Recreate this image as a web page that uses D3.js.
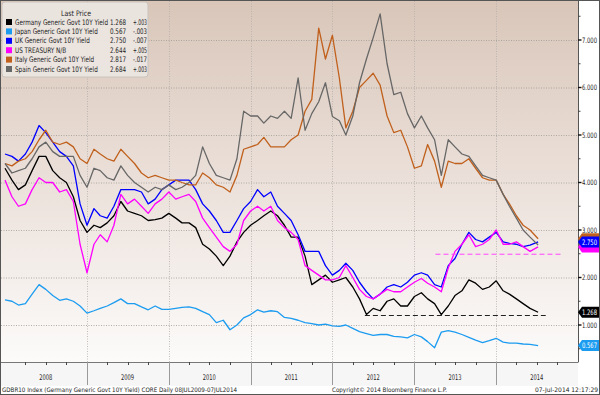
<!DOCTYPE html>
<html lang="en">
<head>
<meta charset="utf-8">
<script src="https://d3js.org/d3.v7.min.js"></script>
<style>
  body { margin: 0; background: #fff; }
  svg text { font-family: "DejaVu Sans", sans-serif; }
</style>
</head>
<body>
<script>
// month-start readings, Jan 2008 .. 07 Jul 2014
const months = d3.timeMonth.range(new Date(2008, 0, 1), new Date(2014, 7, 1));
months[months.length - 1] = new Date(2014, 6, 7);

const germany = [
  4.30, 4.05, 3.85, 3.95, 4.25, 4.55, 4.55, 4.25, 4.10, 4.00, 3.70, 3.20,
  2.95, 3.10, 3.05, 3.15, 3.30, 3.60, 3.40, 3.35, 3.30, 3.20, 3.22, 3.25,
  3.35, 3.25, 3.15, 3.15, 3.05, 2.70, 2.60, 2.45, 2.25, 2.45, 2.75, 2.95,
  3.10, 3.20, 3.30, 3.40, 3.30, 3.10, 2.85, 2.85, 2.45, 1.85, 1.95, 2.05,
  1.90, 1.95, 2.00, 1.80, 1.55, 1.22, 1.35, 1.30, 1.50, 1.55, 1.40, 1.40,
  1.60, 1.68, 1.55, 1.45, 1.22, 1.40, 1.62, 1.72, 1.95, 1.88, 1.75, 1.80,
  1.93, 1.72, 1.65, 1.55, 1.45, 1.35, 1.268
];
const japan = [
  1.53, 1.50, 1.42, 1.45, 1.65, 1.85, 1.75, 1.62, 1.52, 1.55, 1.50, 1.40,
  1.25, 1.30, 1.35, 1.40, 1.47, 1.55, 1.45, 1.45, 1.38, 1.32, 1.40, 1.33,
  1.33, 1.35, 1.37, 1.38, 1.35, 1.28, 1.22, 1.05, 1.10, 0.90, 1.00, 1.15,
  1.22, 1.32, 1.27, 1.30, 1.28, 1.16, 1.14, 1.10, 1.05, 1.03, 1.00, 1.02,
  0.98, 0.97, 1.00, 0.93, 0.86, 0.82, 0.78, 0.80, 0.80, 0.76, 0.75, 0.73,
  0.80, 0.75, 0.65, 0.52, 0.85, 0.88, 0.85, 0.80, 0.74, 0.68, 0.63, 0.67,
  0.72, 0.64, 0.62, 0.62, 0.60, 0.59, 0.567
];
const uk = [
  4.60, 4.55, 4.45, 4.60, 4.85, 5.20, 5.05, 4.85, 4.65, 4.55, 4.35, 3.55,
  3.10, 3.45, 3.30, 3.25, 3.50, 3.85, 3.85, 3.85, 3.80, 3.55, 3.65, 3.85,
  3.95, 4.05, 4.05, 4.05, 3.85, 3.55, 3.40, 3.20, 2.95, 2.95, 3.20, 3.45,
  3.60, 3.85, 3.70, 3.80, 3.50, 3.35, 3.20, 2.90, 2.55, 2.55, 2.55, 2.25,
  2.05, 2.15, 2.30, 2.15, 1.90, 1.70, 1.55, 1.65, 1.80, 1.85, 1.80, 1.90,
  2.05, 2.10, 2.05, 1.85, 1.80, 2.25, 2.40, 2.70, 2.95, 2.80, 2.75, 2.85,
  2.95, 2.75, 2.72, 2.70, 2.65, 2.68, 2.750
];
const us = [
  4.05, 3.70, 3.50, 3.55, 3.85, 4.10, 4.00, 4.00, 3.80, 3.85, 3.60, 2.70,
  2.10, 2.70, 2.90, 2.75, 3.10, 3.75, 3.55, 3.65, 3.50, 3.35, 3.55, 3.65,
  3.80, 3.65, 3.70, 3.75, 3.60, 3.25, 3.05, 2.85, 2.65, 2.55, 2.70, 3.20,
  3.40, 3.50, 3.40, 3.50, 3.20, 3.05, 2.95, 2.80, 2.25, 2.15, 2.05, 1.95,
  1.95, 2.00, 2.25, 2.00, 1.75, 1.60, 1.55, 1.65, 1.75, 1.70, 1.70, 1.80,
  1.90, 1.98, 1.88, 1.80, 1.70, 2.20, 2.55, 2.70, 2.90, 2.65, 2.70, 2.80,
  3.00, 2.70, 2.70, 2.75, 2.65, 2.55, 2.644
];
const italy = [
  4.40, 4.35, 4.45, 4.50, 4.65, 4.90, 5.10, 4.85, 4.80, 4.85, 4.75, 4.50,
  4.40, 4.70, 4.60, 4.50, 4.45, 4.70, 4.55, 4.40, 4.20, 4.10, 4.15, 4.10,
  4.05, 4.05, 4.00, 3.95, 3.95, 4.20, 4.10, 3.95, 3.90, 3.80, 4.15, 4.70,
  4.75, 4.80, 4.95, 4.75, 4.75, 4.75, 4.90, 5.00, 5.50, 5.75, 7.25, 6.60,
  7.10, 6.20, 5.15, 5.50, 6.00, 6.15, 6.30, 6.05, 5.40, 5.05, 5.10, 4.75,
  4.30, 4.35, 4.80, 4.45, 3.90, 4.45, 4.40, 4.40, 4.50, 4.30, 4.10, 4.05,
  4.05, 3.75, 3.55, 3.30, 3.10, 3.00, 2.817
];
const spain = [
  4.40, 4.20, 4.25, 4.30, 4.50, 4.75, 4.85, 4.65, 4.55, 4.55, 4.55, 4.15,
  3.90, 4.30, 4.25, 4.10, 4.05, 4.35, 4.15, 4.00, 3.90, 3.80, 3.90, 3.85,
  3.95, 3.85, 3.90, 4.00, 4.15, 4.75, 4.40, 4.15, 4.10, 4.05, 4.50, 5.50,
  5.40, 5.40, 5.25, 5.40, 5.35, 5.50, 5.35, 6.20, 5.10, 5.45, 5.70, 6.10,
  5.39, 5.30, 5.00, 5.40, 6.10, 6.60, 7.05, 7.55, 6.50, 5.85, 5.90, 5.45,
  5.15, 5.40, 5.15, 4.90, 4.15, 4.90, 4.75, 4.60, 4.55, 4.35, 4.15, 4.10,
  4.05, 3.75, 3.50, 3.25, 3.00, 2.85, 2.684
];

const seriesNames = [
  "Germany Generic Govt 10Y Yield", "Japan Generic Govt 10Y Yield",
  "UK Generic Govt 10Y Yield", "US TREASURY N/B",
  "Italy Generic Govt 10Y Yield", "Spain Generic Govt 10Y Yield"
];
const seriesValues = [germany, japan, uk, us, italy, spain];
const lastPrice = [1.268, 0.567, 2.750, 2.644, 2.817, 2.684];
const netChange = ["+.003", "-.003", "-.007", "+.005", "-.017", "+.003"];
const colors = ["#000000", "#1c9cf0", "#0000ff", "#ff00ff", "#c0601c", "#676767"];

const yTicks = [1, 2, 3, 4, 5, 6, 7];
const years = [2008, 2009, 2010, 2011, 2012, 2013, 2014];

// horizontal dashed levels drawn on the chart
const dashLevels = [1.20, 2.49];
const dashFrom = [new Date(2012, 4, 25), new Date(2013, 3, 5)];
const dashTo = [new Date(2014, 7, 10), new Date(2014, 9, 15)];
const dashColors = ["#222", "#ff44ff"];

const width = 600, height = 395;
const plotLeft = 1, plotRight = 578, plotTop = 1, plotBottom = 362;

const x = d3.scaleTime()
  .domain([new Date(2008, 0, 1), new Date(2015, 0, 1)])
  .range([5, plotRight]);
const y = d3.scaleLinear().domain([0, 7]).range([372.5, 40]);

// the screenshot is squeezed sideways, so text gets narrowed
function squeeze(sel, k) {
  sel.each(function() {
    const w = this.getComputedTextLength();
    d3.select(this).attr("textLength", w * k).attr("lengthAdjust", "spacingAndGlyphs");
  });
}
function fitTo(sel, w) {
  sel.attr("textLength", w).attr("lengthAdjust", "spacingAndGlyphs");
}

const svg = d3.select("body").append("svg")
  .attr("width", width).attr("height", height);

const defs = svg.append("defs");
const grad = defs.append("linearGradient").attr("id", "bg")
  .attr("x1", 0).attr("y1", 0).attr("x2", 0).attr("y2", 1);
grad.append("stop").attr("offset", "0%").attr("stop-color", "#d9c6b9");
grad.append("stop").attr("offset", "55%").attr("stop-color", "#ede3dd");
grad.append("stop").attr("offset", "100%").attr("stop-color", "#fcfbfa");
defs.append("clipPath").attr("id", "clip").append("rect")
  .attr("x", plotLeft).attr("y", plotTop)
  .attr("width", plotRight - plotLeft).attr("height", plotBottom - plotTop);

svg.append("rect").attr("width", width).attr("height", height).attr("fill", "#fff");
svg.append("rect")
  .attr("x", plotLeft).attr("y", plotTop)
  .attr("width", plotRight - plotLeft).attr("height", plotBottom - plotTop)
  .attr("fill", "url(#bg)");
svg.append("rect")
  .attr("x", 0).attr("y", plotBottom)
  .attr("width", plotRight).attr("height", 24)
  .attr("fill", "#f7f6f6");

// grid
svg.append("g").selectAll("line").data(yTicks).join("line")
  .attr("x1", plotLeft).attr("x2", plotRight)
  .attr("y1", d => y(d) + 0.5).attr("y2", d => y(d) + 0.5)
  .attr("stroke", "#a09a96").attr("stroke-width", 0.8)
  .attr("stroke-dasharray", "1,1.5");
const yearStarts = years.slice(1).map(yr => new Date(yr, 0, 1));
svg.append("g").selectAll("line").data(yearStarts).join("line")
  .attr("x1", d => Math.round(x(d)) + 0.5).attr("x2", d => Math.round(x(d)) + 0.5)
  .attr("y1", plotTop).attr("y2", plotBottom)
  .attr("stroke", "#b3aeab").attr("stroke-width", 0.8)
  .attr("stroke-dasharray", "1,1.5");

// series
const line = d3.line().x((d, i) => x(months[i])).y(d => y(d));
const lines = svg.append("g").attr("clip-path", "url(#clip)");
seriesValues.forEach((vals, k) => {
  lines.append("path")
    .attr("d", line(vals))
    .attr("fill", "none")
    .attr("stroke", colors[k])
    .attr("stroke-width", 1.3)
    .attr("stroke-linejoin", "round");
});

// dashed levels
dashLevels.forEach((lv, k) => {
  lines.append("line")
    .attr("x1", x(dashFrom[k])).attr("x2", x(dashTo[k]))
    .attr("y1", y(lv)).attr("y2", y(lv))
    .attr("stroke", dashColors[k]).attr("stroke-width", 1)
    .attr("stroke-dasharray", "5,3");
});

// right axis
const yAxis = svg.append("g");
yAxis.append("line")
  .attr("x1", plotRight + 0.5).attr("x2", plotRight + 0.5)
  .attr("y1", 0).attr("y2", plotBottom)
  .attr("stroke", "#555");
const minorTicks = yTicks.map(d => d + 0.5).concat([0.5]);
yAxis.selectAll(".minor").data(minorTicks).join("line")
  .attr("x1", plotRight).attr("x2", plotRight + 2.5)
  .attr("y1", d => y(d)).attr("y2", d => y(d))
  .attr("stroke", "#444");
yAxis.selectAll(".major").data(yTicks).join("line")
  .attr("x1", plotRight).attr("x2", plotRight + 3.5)
  .attr("y1", d => y(d)).attr("y2", d => y(d))
  .attr("stroke", "#111").attr("stroke-width", 1.4);
yAxis.selectAll("text").data(yTicks).join("text")
  .attr("x", plotRight + 4).attr("y", d => y(d))
  .attr("dy", "0.35em")
  .attr("font-size", 7.5).attr("fill", "#222")
  .text(d3.format(".3f"))
  .call(fitTo, 15);

// last-value tags (the ones underneath only peek out, so no label for them)
const tagOrder = [4, 5, 3, 2, 0, 1];
const tagShown = [true, true, true, false, false, false];
const tags = svg.append("g");
tagOrder.forEach(k => {
  const cy = y(lastPrice[k]);
  tags.append("path")
    .attr("d", `M${plotRight},${cy} L${plotRight + 4},${cy - 5.5} L${width - 1},${cy - 5.5} L${width - 1},${cy + 5.5} L${plotRight + 4},${cy + 5.5} Z`)
    .attr("fill", colors[k]);
  if (tagShown[k]) {
    tags.append("text")
      .attr("x", plotRight + 4).attr("y", cy).attr("dy", "0.35em")
      .attr("font-size", 7.5).attr("fill", "#fff")
      .text(d3.format(".3f")(lastPrice[k]))
      .call(fitTo, 15);
  }
});

// bottom axis
const xAxis = svg.append("g");
xAxis.append("line")
  .attr("x1", 0).attr("x2", plotRight + 0.5)
  .attr("y1", plotBottom + 0.5).attr("y2", plotBottom + 0.5)
  .attr("stroke", "#777");
const quarters = d3.timeMonth.every(3).range(new Date(2008, 0, 1), new Date(2015, 0, 1))
  .filter(d => d.getMonth() !== 0);
xAxis.selectAll(".q").data(quarters).join("line")
  .attr("x1", d => Math.round(x(d)) + 0.5).attr("x2", d => Math.round(x(d)) + 0.5)
  .attr("y1", plotBottom).attr("y2", plotBottom + 3)
  .attr("stroke", "#444");
xAxis.selectAll(".sep").data(yearStarts).join("line")
  .attr("x1", d => Math.round(x(d)) + 0.5).attr("x2", d => Math.round(x(d)) + 0.5)
  .attr("y1", plotBottom).attr("y2", 385)
  .attr("stroke", "#9a9a9a");
xAxis.selectAll("text").data(years).join("text")
  .attr("x", d => x(new Date(d, 6, 1))).attr("y", 380)
  .attr("text-anchor", "middle")
  .attr("font-size", 7.8).attr("fill", "#222")
  .text(d => d)
  .call(fitTo, 13);

// footer
const footer = svg.append("g").attr("font-size", 6.2).attr("fill", "#222");
footer.append("text").attr("x", 2).attr("y", 392)
  .text("GDBR10 Index (Germany Generic Govt 10Y Yield) CORE  Daily 08JUL2009-07JUL2014")
  .call(fitTo, 235);
footer.append("text").attr("x", 332).attr("y", 392)
  .text("Copyright\u00A9 2014 Bloomberg Finance L.P.")
  .call(fitTo, 115);
footer.append("text").attr("x", 535).attr("y", 392)
  .text("07-Jul-2014 12:17:29")
  .call(fitTo, 63);

// legend
const legend = svg.append("g");
legend.append("rect")
  .attr("x", 2).attr("y", 2).attr("width", 146).attr("height", 75).attr("rx", 3)
  .attr("fill", "#ece6e2").attr("fill-opacity", 0.92)
  .attr("stroke", "#c9c2bd");
legend.append("text").attr("x", 76).attr("y", 15.5).attr("text-anchor", "middle")
  .attr("font-size", 7.6).attr("fill", "#222").text("Last Price")
  .call(fitTo, 30);
const nameTexts = [];
seriesNames.forEach((name, k) => {
  const cy = 22 + k * 9.4;
  legend.append("rect").attr("x", 6).attr("y", cy - 3).attr("width", 6).attr("height", 6)
    .attr("fill", colors[k]);
  nameTexts.push(legend.append("text").attr("x", 15).attr("y", cy).attr("dy", "0.35em")
    .attr("font-size", 7.6).attr("fill", "#222").text(name));
  legend.append("text").attr("x", 126).attr("y", cy).attr("dy", "0.35em")
    .attr("text-anchor", "end").attr("font-size", 7.6).attr("fill", "#222")
    .text(d3.format(".3f")(lastPrice[k]))
    .call(fitTo, 16);
  legend.append("text").attr("x", 147).attr("y", cy).attr("dy", "0.35em")
    .attr("text-anchor", "end").attr("font-size", 7.6).attr("fill", "#222")
    .text(netChange[k])
    .call(fitTo, 14);
});
// narrow all names by the same factor: the Germany row is 93px wide in the original
const nameK = 93 / nameTexts[0].node().getComputedTextLength();
nameTexts.forEach(t => t.call(squeeze, nameK));

// outer frame
svg.append("rect").attr("x", 0.5).attr("y", 0.5)
  .attr("width", width - 1).attr("height", height - 1)
  .attr("fill", "none").attr("stroke", "#555");
</script>
</body>
</html>
